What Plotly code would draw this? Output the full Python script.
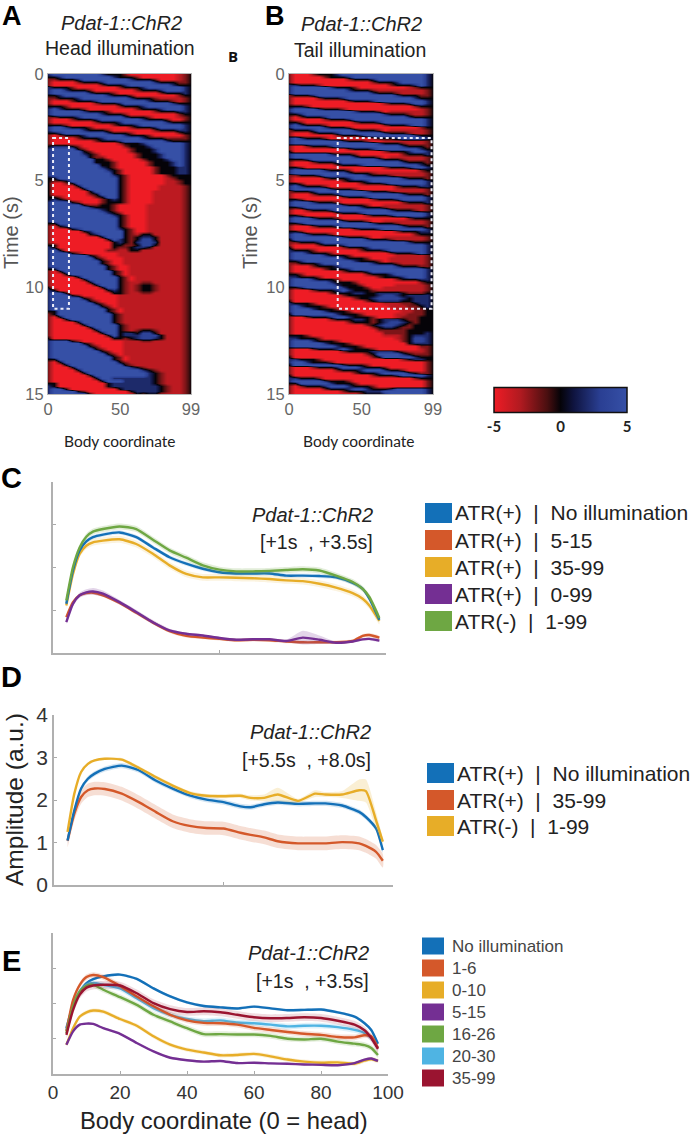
import numpy as np
import plotly.graph_objects as go

W, H = 692, 1134

# heatmap values, one character per cell, one string per 0.125 s
CELL = {"R": -5, "M": -3.4, "r": -2, ".": 0, "n": 2, "b": 3.5, "B": 5}

HEAD_MAP = [
    "nBBBBBBBBn...rRRRRRRRRMr.", "..nBBBBBBBBn...rRRRRRRMr.", "rr...nBBBBBBBBn...rRRRMr.",
    "rRRRRr...nBBBBBBBBn...rr.", "rRRRRRRRRr...nBBBBBBBn...", "n...rRRRRRRRr...nBBBBBBn.",
    "nBBn...rRRRRRRRr...nBBBn.", "nBBBBBBn...rRRRRRRRr...n.", "..nBBBBBBBn...rRRRRRRRr..",
    "rr...nBBBBBBBBn...rMMMMr.", "rRRRr...nBBBBBBBBn...rMr.", "rRRRRRRRr...nBBBBBBBBn...",
    "...rRRRRRRRRr...nBBBBBBn.", "nBn...rRRRRRRRRr...nBBBn.", "nBBBBBn...rRRRRRRRr...nn.",
    "nBBBBBBBBn...rRRRRRRRRr..", "rr...nBBBBBBBn...rRRRRMr.", "rRRRr...nBBBBBBBn...rRRr.",
    "rRRRRRRRr...nBBBBBBBn....", "...rRRRRRRRr...nBBBBBBBn.", "nBBn...rRRRRRRr...nBBBBn.",
    "nBBBBBn...rRRRRRRRr...nn.", "..nBBBBBBBn...rRRRRRRRr..", "rRr...nBBBBBBn...rRRRRRr.",
    "rRRRRr...nBBBBBBn...rrrr.", "rRRRRRRRr...nBBBBBBBn....", "rRRRRRRRRRRRr...nBBBBBBn.",
    ".nnn.rRRRRRRRr...nBBBBBn.", "nBBBB.rRRRRRRRr...nBBBBn.", "nBBBBB.rRRRRRRr...nBBBBn.",
    "nBBBBBn.rRRRRRRr...nBBBn.", "nBBBBBB.rrRRRRRr...nBBBn.", "nBBBBBBB..rRRRRRr...nBBn.",
    "nBBBBBBB...rRRRRRr...nBn.", "nBBBBBBBB..rRRRRRr...nBn.", "nBBBBBBBBn.rRRRRRRr...nn.",
    "nBBBBBBBBBn.rRRRRRr...nn.", "nBBBBBBBBBB.rRRRRRr...nn.", "nBBBBBBBBBBn.rRRRRRRr....",
    "..BBBBBBBBBB.rRRRRRRMr...", ".rr.BBBBBBBB.rRRRRRRMMr..", ".RRr.BBBBBBB.rRRRRRRMMr..",
    ".RRRR.BBBBBB.rRRRRRMMMMr.", ".RRRRR.BBBBB.rRRRRRMMMMr.", ".RRRRRR.BBBB.rRRRRMMMMMr.",
    ".RRRRRRr.BBB.rRRRRMMMMMr.", "..rRRRRRr.BB.rRRRRMMMMMr.", ".n.rRRRRRr.n.rRRRRMMMMMr.",
    "nBBB.rRRRr...rRRRRMMMMMr.", "nBBBBB.rr..rRRRRRMMMMMMr.", "nBBBBBBn...rRRRRRMMMMMMr.",
    "nBBBBBBBBn.rRRRRRMMMMMMr.", "nBBBBBBBBBn.rRRRRMMMMMMr.", "nBBBBBBBBBBn.rRRRMMMMMMr.",
    "nBBBBBBBBBBB.rRRRMMMMMMr.", "nBBBBBBBBBBB.rRRRMMMMMMr.", "..BBBBBBBBBB.rRRRMMMMMMr.",
    "rR.nBBBBBBBB.rRRRMMMMMMr.", "rRRR.nBBBBBBn.rRRMMMMMMr.", "rRRRRR.nBBBBB.rRRMMMMMMr.",
    "rRRRRRR.nBBBB.rM..MMMMMr.", "rRRRRRRRR.BBB.r.nn.MMMMr.", "rRRRRRRRRR.Bn.r.bb.MMMMr.",
    "rRRRRRRRRRR.n.rnbbnMMMMr.", "..RRRRRRRRR..rr.bb.MMMMr.", "n.RRRRRRRRR.rr.nn.MMMMMr.",
    "nB.RRRRRRRrrMM..MMMMMMMr.", "nBBB.rRRRRRRMMMMMMMMMMMr.", "nBBBBBB.rRRRMMMMMMMMMMMr.",
    "nBBBBBBB.rRRRMMMMMMMMMMr.", "nBBBBBBBB.rRRMMMMMMMMMMr.", "nBBBBBBBB.rRRMMMMMMMMMMr.",
    "nBBBBBBBBB.rRRMMMMMMMMMr.", "..BBBBBBBB.rRRMMMMMMMMMr.", "rR.BBBBBBBB.rRMMMMMMMMMr.",
    "rRR.BBBBBBB.rRMMMMMMMMMr.", "rRRRR.BBBBBB.rRMMMMMMMMr.", "rRRRRR.BBBBB.rRMMMMMMMMr.",
    "rRRRRRR.BBBB.rMMrrMMMMMr.", "rRRRRRRR.BBB.rMr..rMMMMr.", ".RRRRRRRR.BB.rMr..rMMMMr.",
    "n.RRRRRRRR.n.rMr..rMMMMr.", "nBB.RRRRRRR..rMMrrMMMMMr.", "nBBB.rRRRRRRMMMMMMMMMMMr.",
    "nBBBBB.rRRRRMMMMMMMMMMMr.", "nBBBBBB.rRRRMMMMMMMMMMMr.", "nBBBBBBB.rRRMMMMMMMMMMMr.",
    "nBBBBBBBB.rRMMMMMMMMMMMr.", "nBBBBBBBBB.rRMMMMMMMMMMr.", "..BBBBBBBB.rRMMMMMMMMMMr.",
    "r.BBBBBBBBB.rMMMMMMMMMMr.", "rR.BBBBBBBB.rMMMMMMMMMMr.", "rRR.BBBBBBB.rMMMMMMMMMMr.",
    "rRRRR.BBBBB.rMMMMMMMMMMr.", "rRRRRR.BBBBB.rMMMMMMMMMr.", "rRRRRRR.BBBB.rMMMMMMMMMr.",
    "rRRRRRRR.BBB.rMr..rMMMMr.", "rRRRRRRRR.BB.nn.bb.MMMMr.", "rRRRRRRRRR.B.nnnbbb.MMMr.",
    ".RRRRRRRRRR..r.nbbn.MMMr.", "nBBB.rRRRRRRRMMMrrMMMMMr.", "nBBBBB.rRRRRRMMMMMMMMMMr.",
    "nBBBBBB.rRRRRMMMMMMMMMMr.", "nBBBBBBB.rRRRMMMMMMMMMMr.", "nBBBBBBBB.rRRMMMMMMMMMMr.",
    "nBBBBBBBBB.rRMMMMMMMMMMr.", "nBBBBBBBBBB.rRMMMMMMMMMr.", "..BBBBBBBBB.rRMMMMMMMMMr.",
    "rR.BBBBBBBBB.rMMMMMMMMMr.", "rRR.BBBBBBBBB.rMMMMMMMMr.", "rRRR.BBBBBBBBBn.rMMMMMMr.",
    "rRRRR.BBBBBBBBBBn.rMMMMr.", "rRRRRR.BBBBBBBBBBn.rMMMr.", "rRRRRRR.BBBBBBBBBn.rMMMr.",
    "rRRRRRRR.BBnnnnnnn.rMMMr.", "rRRRRRRRR.BBBnnnnn.rMMMr.", "..RRRRRRRR.nnnnnnn.rMMMr.",
    "n.RRRRRRRR.nnnnnnnn.rMMr.", "nBB.RRRRRRRR.nnnnnn.rMMr.", "nBBBB.rRRRRRRR.nnnn.rMMr.",
    "nBBBBBB.RRRRRRR.r..MMMMr.",
]

TAIL_MAP = [
    "rRRRr...nBBBBBBBBBBBBBBn.", "rRRRRRr...nBBBBBBBBBBBBn.", "rRRRRRRRRRr...nBBBBBBBBn.",
    "rRRRRRRRRRRRRRr...nBBBBn.", "nn...rRRRRRRRRRRRr...nBn.", "nBBBBBBn...rRRRRRRRRMr...",
    "nBBBBBBBBBn...rMMMMMMMMr.", "nBBBBBBBBBBBBBn...rMMMMr.", "r...nBBBBBBBBBBBBBn...rr.",
    "rRRRRr...nBBBBBBBBBBBn...", "rRRRRRRRRRr...nBBBBBBBBn.", "rRRRRRRRRRRRRRRRr...nBBn.",
    "...rRRRRRRRRRRRRRRRRRr...", "nBBBBn...rRRRRRRRRRRRRMr.", "nBBBBBBBBBBn...rRMMMMMMr.",
    "..nBBBBBBBBBBBBBn...rMMr.", "rRr...nBBBBBBBBBBBBBn....", "rRRRRRr...nBBBBBBBBBBBBn.",
    "..rRRRRRRRRr...nBBBBBBBn.", "nBn...rRRRRRRRRRr...nBBn.", "nBBBBBn...rRRRRRRRRRRRr..",
    "r...nBBBBBBn...rRMMMMMMr.", "rRRRr...nBBBBBBBn...rMMr.", "rRRRRRRRr...nBBBBBBBBn...",
    "nBn...rRRRRRRRr...nBBBBn.", "nBBBBBBBBn...rRRMMMMMMMr.", "nBBBBBBBBBBBBBBn...rMMMr.",
    "rRRr...nBBBBBBBBBBBn...r.", "rRRRRRRRRRr...nBBBBBBBn..", ".RRRRRRRRRRRRRRRr...nBBn.",
    "nBBBBBBn...rRRRRRRRr...n.", "nBBBBBBBBBBn...rRMMMMMMr.", "...nBBBBBBBBBBBn...rMMMr.",
    "rRRRr...nBBBBBBBBBBn...r.", "rRRRRRRRr...nBBBBBBBBBn..", "..rRRRRRRRRRRRRRr...nBBn.",
    "nBBBBBn...rRRRRRRRRRRRr..", "nBBBBBBBBBn...rMMMMMMMMr.", "rr...nBBBBBBBn...rMMMMMr.",
    "rRRRRRr...nBBBBBBBBn...r.", "rRRRRRRRRr...nBBBBBBBBBn.", "..rRRRRRRRRRr...nBBBBBBn.",
    "nBn...rRRRRRRRRRRRr...nn.", "nBBBBBBn...rRRRRRRMMMMMr.", "r...nBBBBBBBBn...rMMMMMr.",
    "rRRRr...nBBBBBBBBBBn...r.", "rRRRRRRRRr...nBBBBBBBBBn.", "..rRRRRRRRRRRRr...nBBBBn.",
    "nBBBn...rRRRRRRRRRRr...n.", "nBBBBBBBBn...rRRMMMMMMMr.", "..nBBBBBBBBBn...rMMMMMMr.",
    "rRRr...nBBBBBBBBBn...rMr.", "rRRRRRRRr...nBBBBBBBBBBn.", "..rRRRRRRRRRRr...nBBBBBn.",
    "nBBBn...rRRRRRRRRRRRr....", "nBBBBBBBBn...rRRMMMMMMMr.", "..nBBBBBBBBBBBn...rMMMMr.",
    "rRRRr...nBBBBBBBBBBn...r.", "rRRRRRRRRRRr...nBBBBBBBn.", "..rRRRRRRRRRRRRRRRr...nn.",
    "nBBn...rRRRRRRRRRRRRRr...", "nBBBBBBBBn...rRRMMMMMMMr.", ".BBBBBBBBBBBBn...rMMMMMr.",
    "rr...nBBBBBBBBBBBBBBn....", "rRRRRr...nBBBBBBBBBBBBBn.", ".RRRRRRRRr...nBBBBBBBBBn.",
    "n...rRRRRRRRr...nBBBBBBn.", "nBBn...rRRRRRRRRRr...nBn.", "nBBBBBn...rRRRRRRRMMMMMr.",
    "nBBBBBBBBn...rRRRMMMMMMr.", "..nBBBBBBBBn...rRMMMMMMr.", "rr...nBBBBBBBBn...rMMMMr.",
    "rRRRr...nBBBBBBBBBn...rr.", "rRRRRRr...nBBBBBBBBBBBBn.", "rRRRRRRRRr...nBBBBBBBBBn.",
    "..rRRRRRRRRRRr...nBBBBBn.", "nn...rRRRRRRRRRr...nBBBn.", "nBBBn...rRRRRRRRRRr...nn.",
    "nBBBBBBn...rRRRRRRRRRRr..", "nBBBBBBBn...rRRRRRMMMMMr.", "..nBBBBBBn...rRRMMMMMMMr.",
    "rRRRr...nBn...rMMMMMMMMr.", "rRRRRRRr...nn..nnnn.rrr..", "rRRRRRRRRr.....nbbn.nnnn.",
    "rRRRRRRRRRRr..nbbbbn.nnn.", ".RRRRRRRRRRRRr.nnnn..nnn.", "n...rRRRRRRRRRRRMMMrr.nn.",
    "nBn...rRRRRRRRRRRMMMrr.n.", "nBBBn...rRRRRRRRRRMMMrr..", "nBBBBBn...rRRRRRRRRMMrr..",
    ".BBBBBBBn...rRRRRRMMrrr..", "rRRr...nBBn...rRRRMrrr...", "rRRRRRRr...nn.r.nnn.rr...",
    "rRRRRRRRRRr...r.nbbn.r...", "rRRRRRRRRRRRRr.nbbn.r....", "rRRRRRRRRRRRRRr.nn.rr....",
    "rRRRRRRRRRRRRRRrrrrr.....", "rRRRRRRRRRRRRRRRrrrr...n.", "...rRRRRRRRRRRRRMMMr.nnn.",
    "nn...rRRRRRRRRRRRRMr.bbn.", "nBBBn...rRRRRRRRRRRr.bbn.", "nBBBBBn...rRRRRRRRRR.nnn.",
    "nBBBBBBBn...rRRRRRRRRRrr.", "rRRRr...nBn...rRRRRRRRMr.", "rRRRRRRRRr....nnnn.rMMMr.",
    "rRRRRRRRRRRRRr.BBBBn.rrr.", ".RRRRRRRRRRRRRr.BBBBBn...", "nn...rRRRRRRRRRRRRRr.nn..",
    "nBBn...rRRRRRRRRRRRRRRRr.", ".BBBBBBBBn...rRRRRRRRRRr.", "rRRRr...nBBBn...rRRRRRRr.",
    "rRRRRRRRr...nBBBn..rRRRr.", "rRRRRRRRRRRr...nBBBBn.rr.", ".RRRRRRRRRRRRRr...nBBBBn.",
    "nn...rRRRRRRRRRRRRRRRr...", "nBBBBBn...rRRRRRRRRRRRRr.", "..BBBBBn...rRRRRRRRRRRRr.",
    "rRr...nBBBn...rRRRRRRRRr.", "rRRRRRr...nBBn...nBBBBBn.", "rRRRRRRRRr...nnnBBBBBBBn.",
    "rRRRRRRRRRRRr...nBBBBBBn.",
]

COLORBAR_TICKS = [-5, 0, 5]

# panel C, +1 s to +3.5 s
X_C = [4, 6, 8, 10, 12, 15, 20, 25, 30, 35, 40, 45, 50, 55, 60, 65, 70, 75, 80, 85, 90, 93, 95, 98]
C_NO_ILLUM = [1.15, 1.93, 2.40, 2.61, 2.71, 2.77, 2.82, 2.71, 2.47, 2.24, 2.09, 1.97, 1.89, 1.86, 1.86, 1.86, 1.81, 1.81, 1.80, 1.77, 1.64, 1.50, 1.27, 0.78]
C_5_15 = [0.84, 1.19, 1.35, 1.40, 1.41, 1.35, 1.17, 0.94, 0.71, 0.51, 0.40, 0.36, 0.33, 0.30, 0.31, 0.30, 0.27, 0.25, 0.25, 0.25, 0.28, 0.40, 0.42, 0.36]
C_35_99 = [1.11, 1.85, 2.32, 2.51, 2.59, 2.63, 2.66, 2.55, 2.32, 2.05, 1.85, 1.77, 1.77, 1.76, 1.75, 1.73, 1.70, 1.68, 1.62, 1.53, 1.40, 1.27, 1.11, 0.75]
C_0_99 = [0.72, 1.15, 1.35, 1.42, 1.44, 1.39, 1.19, 0.96, 0.72, 0.53, 0.45, 0.41, 0.35, 0.31, 0.32, 0.32, 0.28, 0.36, 0.31, 0.24, 0.27, 0.32, 0.33, 0.29]
C_NO_ATR = [1.23, 2.01, 2.47, 2.72, 2.84, 2.90, 2.96, 2.90, 2.65, 2.40, 2.23, 2.05, 1.95, 1.91, 1.91, 1.92, 1.94, 1.96, 1.93, 1.81, 1.66, 1.50, 1.31, 0.82]
C_0_99_ERR = [0.05, 0.05, 0.06, 0.07, 0.08, 0.07, 0.05, 0.05, 0.05, 0.04, 0.03, 0.03, 0.03, 0.03, 0.03, 0.03, 0.03, 0.16, 0.10, 0.03, 0.03, 0.03, 0.03, 0.03]

# panel D, +5.5 s to +8 s
X_D = [4, 6, 8, 10, 12, 15, 20, 25, 30, 35, 40, 45, 50, 55, 58, 62, 66, 72, 77, 80, 85, 90, 92, 95, 97]
D_NO_ILLUM = [1.05, 1.76, 2.27, 2.50, 2.62, 2.73, 2.81, 2.70, 2.46, 2.27, 2.11, 2.01, 1.95, 1.85, 1.83, 1.90, 1.94, 1.91, 1.92, 1.92, 1.87, 1.72, 1.60, 1.33, 0.82]
D_35_99 = [1.04, 1.68, 2.07, 2.23, 2.27, 2.26, 2.15, 1.95, 1.72, 1.50, 1.39, 1.34, 1.33, 1.23, 1.18, 1.12, 1.03, 0.98, 0.98, 0.98, 1.01, 0.98, 0.92, 0.78, 0.57]
D_NO_ATR = [1.25, 2.15, 2.66, 2.85, 2.93, 2.97, 2.95, 2.76, 2.54, 2.34, 2.17, 2.10, 2.09, 2.10, 2.05, 2.05, 2.13, 1.98, 2.15, 2.13, 2.13, 2.23, 2.21, 1.52, 1.02]
D_NO_ATR_ERR = [0.03, 0.03, 0.03, 0.03, 0.03, 0.03, 0.04, 0.04, 0.04, 0.04, 0.04, 0.04, 0.05, 0.05, 0.06, 0.08, 0.16, 0.05, 0.08, 0.06, 0.08, 0.25, 0.27, 0.20, 0.06]

# panel E, +1 s to +3.5 s
X_E = [4, 6, 8, 10, 12, 15, 20, 25, 30, 35, 40, 45, 50, 55, 60, 65, 70, 75, 80, 85, 90, 93, 95, 97]
E_NO_ILLUM = [1.30, 1.96, 2.34, 2.58, 2.69, 2.77, 2.82, 2.70, 2.43, 2.20, 2.03, 1.93, 1.89, 1.86, 1.91, 1.86, 1.81, 1.82, 1.83, 1.75, 1.63, 1.44, 1.25, 0.86]
E_1_6 = [1.21, 2.10, 2.53, 2.75, 2.81, 2.75, 2.50, 2.20, 1.92, 1.68, 1.52, 1.45, 1.44, 1.40, 1.31, 1.25, 1.19, 1.14, 1.11, 1.05, 1.04, 1.10, 1.07, 0.74]
E_0_10 = [0.83, 1.30, 1.63, 1.75, 1.80, 1.77, 1.56, 1.37, 1.07, 0.83, 0.69, 0.61, 0.53, 0.54, 0.57, 0.50, 0.41, 0.35, 0.32, 0.33, 0.29, 0.38, 0.42, 0.37]
E_5_15 = [0.83, 1.21, 1.40, 1.43, 1.42, 1.30, 1.14, 0.88, 0.64, 0.46, 0.39, 0.35, 0.37, 0.31, 0.32, 0.30, 0.29, 0.27, 0.26, 0.25, 0.31, 0.41, 0.44, 0.37]
E_16_26 = [1.16, 1.92, 2.34, 2.50, 2.53, 2.39, 2.18, 1.96, 1.68, 1.49, 1.30, 1.13, 1.13, 1.12, 1.12, 1.08, 1.00, 0.98, 1.00, 0.92, 0.86, 0.82, 0.74, 0.54]
E_20_30 = [1.25, 1.92, 2.34, 2.53, 2.58, 2.53, 2.43, 2.15, 1.87, 1.68, 1.56, 1.50, 1.52, 1.46, 1.44, 1.40, 1.35, 1.37, 1.37, 1.33, 1.25, 1.16, 1.02, 0.74]
E_35_99 = [1.11, 1.82, 2.25, 2.45, 2.51, 2.53, 2.51, 2.29, 2.01, 1.84, 1.76, 1.78, 1.75, 1.68, 1.61, 1.58, 1.59, 1.61, 1.59, 1.51, 1.40, 1.24, 1.02, 0.71]

BLUE = "#1370b8"
ORANGE = "#d4582a"
YELLOW = "#e7ad28"
PURPLE = "#742f93"
GREEN = "#6ea743"
CYAN = "#4fb4e3"
CRIMSON = "#9a1430"

C_LABELS = ["ATR(+)\u00a0\u00a0|\u00a0\u00a0No illumination", "ATR(+)\u00a0\u00a0|\u00a0\u00a05-15", "ATR(+)\u00a0\u00a0|\u00a0\u00a035-99",
            "ATR(+)\u00a0\u00a0|\u00a0\u00a00-99", "ATR(-)\u00a0\u00a0|\u00a0\u00a01-99"]
D_LABELS = ["ATR(+)\u00a0\u00a0|\u00a0\u00a0No illumination", "ATR(+)\u00a0\u00a0|\u00a0\u00a035-99", "ATR(-)\u00a0\u00a0|\u00a0\u00a01-99"]
E_LABELS = ["No illumination", "1-6", "0-10", "5-15", "16-26", "20-30", "35-99"]

SANS = "Liberation Sans"


def px_x(px):
    return px / W


def px_y(px):
    return 1 - px / H


def rgba(hex_color, alpha):
    r, g, b = (int(hex_color[i:i + 2], 16) for i in (1, 3, 5))
    return f"rgba({r},{g},{b},{alpha})"


def to_z(rows):
    return [[CELL[ch] for ch in row] for row in rows]


fig = go.Figure()


def add_heat(rows, axis):
    fig.add_trace(go.Heatmap(
        z=to_z(rows), x=np.linspace(0, 99, 25), y=np.linspace(0, 15, 121),
        coloraxis="coloraxis", zsmooth="best", hoverinfo="skip",
        xaxis="x" + axis, yaxis="y" + axis))


def add_curve(x, y, err, color, name, axis, band_alpha=0.18):
    x = np.array(x, dtype=float)
    y = np.array(y, dtype=float)
    upper = y + err
    lower = y - err
    fig.add_trace(go.Scatter(
        x=np.concatenate([x, x[::-1]]), y=np.concatenate([upper, lower[::-1]]),
        mode="lines", fill="toself", fillcolor=rgba(color, band_alpha),
        line=dict(width=0, shape="spline", smoothing=0.6), hoverinfo="skip",
        showlegend=False, xaxis="x" + axis, yaxis="y" + axis))
    fig.add_trace(go.Scatter(
        x=x, y=y, mode="lines", name=name, showlegend=False,
        line=dict(color=color, width=2.4, shape="spline", smoothing=0.6),
        xaxis="x" + axis, yaxis="y" + axis))


add_heat(HEAD_MAP, "")
add_heat(TAIL_MAP, "2")

add_curve(X_C, C_5_15, 0.04, ORANGE, C_LABELS[1], "3")
add_curve(X_C, C_0_99, np.array(C_0_99_ERR), PURPLE, C_LABELS[3], "3", 0.2)
add_curve(X_C, C_35_99, 0.08, YELLOW, C_LABELS[2], "3", 0.15)
add_curve(X_C, C_NO_ILLUM, 0.05, BLUE, C_LABELS[0], "3", 0.15)
add_curve(X_C, C_NO_ATR, 0.07, GREEN, C_LABELS[4], "3", 0.2)

add_curve(X_D, D_35_99, 0.16, ORANGE, D_LABELS[1], "4", 0.2)
add_curve(X_D, D_NO_ILLUM, 0.06, BLUE, D_LABELS[0], "4", 0.18)
add_curve(X_D, D_NO_ATR, np.array(D_NO_ATR_ERR), YELLOW, D_LABELS[2], "4", 0.2)

add_curve(X_E, E_NO_ILLUM, 0.04, BLUE, E_LABELS[0], "5")
add_curve(X_E, E_20_30, 0.08, CYAN, E_LABELS[5], "5")
add_curve(X_E, E_1_6, 0.08, ORANGE, E_LABELS[1], "5")
add_curve(X_E, E_16_26, 0.08, GREEN, E_LABELS[4], "5")
add_curve(X_E, E_35_99, 0.11, CRIMSON, E_LABELS[6], "5", 0.15)
add_curve(X_E, E_0_10, 0.06, YELLOW, E_LABELS[2], "5")
add_curve(X_E, E_5_15, 0.03, PURPLE, E_LABELS[3], "5")


def heat_axes(x0, x1):
    xa = dict(domain=[px_x(x0), px_x(x1)], range=[0, 99], tickvals=[0, 50, 99], ticks="",
              showgrid=False, zeroline=False, showline=True, linecolor="#b5b5b5", linewidth=1, mirror=True,
              tickfont=dict(family=SANS, size=16.5, color="#666666"))
    ya = dict(domain=[px_y(394), px_y(74)], range=[15, 0], tickvals=[0, 5, 10, 15], ticks="",
              showgrid=False, zeroline=False, showline=True, linecolor="#b5b5b5", linewidth=1, mirror=True,
              tickfont=dict(family=SANS, size=16.5, color="#666666"))
    return xa, ya


def line_axes(x0, x1, y_bottom, y_top, xticks, yticks, labels=False):
    xa = dict(domain=[px_x(x0), px_x(x1)], range=[0, 100], tickvals=xticks, showticklabels=labels,
              ticks="inside", ticklen=3, tickcolor="#aaaaaa", showgrid=False, zeroline=False,
              showline=True, linecolor="#b0b0b0", linewidth=1.5,
              tickfont=dict(family=SANS, size=19, color="#333333"))
    ya = dict(domain=[px_y(y_bottom), px_y(y_top)], range=[0, 4], tickvals=yticks, showticklabels=False,
              ticks="inside", ticklen=3, tickcolor="#aaaaaa", showgrid=False, zeroline=False,
              showline=True, linecolor="#b0b0b0", linewidth=1.5,
              tickfont=dict(family=SANS, size=21, color="#333333"))
    return xa, ya


xa1, ya1 = heat_axes(48, 191)
xa2, ya2 = heat_axes(289, 433)
xa3, ya3 = line_axes(53, 386, 653, 482, [50], [0, 1, 2, 3, 4])
xa4, ya4 = line_axes(54, 393, 885, 715, [50], [0, 1, 2, 3, 4])
ya4.update(showticklabels=True)
xa5, ya5 = line_axes(53, 388, 1074, 933, [0, 20, 40, 60, 80, 100], [0, 1, 2, 3, 4], labels=True)

fig.update_layout(
    width=W, height=H, autosize=False, showlegend=False,
    margin=dict(l=0, r=0, t=0, b=0, autoexpand=False),
    paper_bgcolor="white", plot_bgcolor="white",
    font=dict(family=SANS, color="#222222"),
    xaxis=xa1, yaxis=ya1,
    xaxis2={**xa2, "anchor": "y2"}, yaxis2={**ya2, "anchor": "x2"},
    xaxis3={**xa3, "anchor": "y3"}, yaxis3={**ya3, "anchor": "x3"},
    xaxis4={**xa4, "anchor": "y4"}, yaxis4={**ya4, "anchor": "x4"},
    xaxis5={**xa5, "anchor": "y5"}, yaxis5={**ya5, "anchor": "x5"},
    coloraxis=dict(
        cmin=-5, cmax=5,
        colorscale=[[0, "#ee1c25"], [0.2, "#b01a20"], [0.4, "#4a0f10"], [0.5, "#050308"],
                    [0.6, "#0f1440"], [0.8, "#2a3f93"], [1, "#3650a6"]],
        colorbar=dict(
            orientation="h", x=px_x(494), xanchor="left", y=px_y(432), yanchor="bottom",
            len=133, lenmode="pixels", thickness=25, thicknessmode="pixels", xpad=0, ypad=0,
            outlinecolor="#111111", outlinewidth=1.5, ticks="",
            tickvals=COLORBAR_TICKS, ticktext=[str(v) for v in COLORBAR_TICKS],
            tickfont=dict(family="Lato", size=15, color="#222222", weight="bold"),
        ),
    ),
)

# white dotted boxes over the illuminated stretch
fig.add_shape(type="rect", x0=3.5, x1=14.5, y0=3, y1=11, xref="x", yref="y",
              line=dict(color="#ececf8", width=2, dash="dot"))
fig.add_shape(type="rect", x0=33.5, x1=98, y0=3, y1=11, xref="x2", yref="y2",
              line=dict(color="#ececf8", width=2, dash="dot"))


def label(text, x, y, size, color="#222222", anchor="center", italic=False, bold=False, angle=0, family=SANS):
    fig.add_annotation(
        text=text, x=px_x(x), y=px_y(y), xref="paper", yref="paper", showarrow=False,
        xanchor=anchor, yanchor="middle", textangle=angle,
        font=dict(family=family, size=size, color=color,
                  style="italic" if italic else "normal", weight="bold" if bold else "normal"))


# panel letters
label("A", 12, 16, 27, "#000000", bold=True)
label("B", 275, 16, 27, "#000000", bold=True)
label("B", 233, 56, 15, "#111111", bold=True, family="Open Sans")
label("C", 11, 478, 29, "#000000", bold=True)
label("D", 12, 677, 29, "#000000", bold=True)
label("E", 11, 961, 29, "#000000", bold=True)

# heatmap headings
label("Pdat-1::ChR2", 121, 23, 20, italic=True)
label("Head illumination", 120, 48, 19.5)
label("Pdat-1::ChR2", 361, 24, 20, italic=True)
label("Tail illumination", 360, 50, 19.5)
label("Time (s)", 11, 233, 20, "#555555", angle=-90)
label("Time (s)", 250, 233, 20, "#555555", angle=-90)
label("Body coordinate", 119, 441, 15.5, family="Lato")
label("Body coordinate", 358, 441, 15.5, family="Lato")

# line panel captions
label("Pdat-1::ChR2", 375, 515, 20, anchor="right", italic=True)
label("[+1s\u00a0\u00a0, +3.5s]", 375, 542, 19.5, anchor="right")
label("Pdat-1::ChR2", 373, 732, 20, anchor="right", italic=True)
label("[+5.5s\u00a0\u00a0, +8.0s]", 373, 760, 19.5, anchor="right")
label("Pdat-1::ChR2", 371, 953, 20, anchor="right", italic=True)
label("[+1s\u00a0\u00a0, +3.5s]", 371, 981, 19.5, anchor="right")
label("Amplitude (a.u.)", 14, 800, 24.5, angle=-90)
label("Body coordinate (0 = head)", 224, 1120, 23.8)


def key(labels, colors, swatch_x0, swatch_x1, centers, swatch_h, text_x, size, color="#222222"):
    for name, col, yc in zip(labels, colors, centers):
        fig.add_shape(type="rect", xref="paper", yref="paper",
                      x0=px_x(swatch_x0), x1=px_x(swatch_x1),
                      y0=px_y(yc + swatch_h / 2), y1=px_y(yc - swatch_h / 2),
                      fillcolor=col, line=dict(width=0))
        label(name, text_x, yc, size, color, anchor="left")


key(C_LABELS, [BLUE, ORANGE, YELLOW, PURPLE, GREEN], 425, 452, [513, 540, 567, 594, 621], 20, 453, 21)
key(D_LABELS, [BLUE, ORANGE, YELLOW], 427, 454, [773, 800, 826], 20, 455, 21)
key(E_LABELS, [BLUE, ORANGE, YELLOW, PURPLE, GREEN, CYAN, CRIMSON], 422, 444,
    [946, 968, 990, 1012, 1034, 1056, 1078], 17, 450, 17, "#444444")

# the page's default body margin would push the figure out of the window
fig.write_html("out.html", config=dict(displayModeBar=False),
               post_script="document.body.style.margin='0';document.documentElement.style.overflow='hidden';")
